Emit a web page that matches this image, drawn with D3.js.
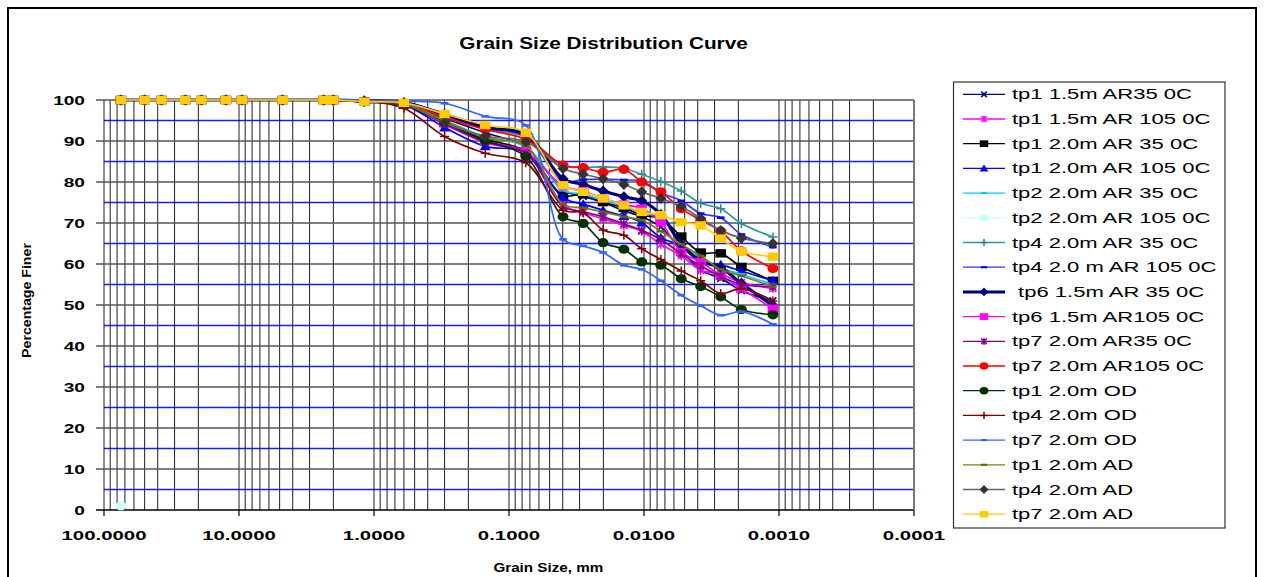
<!DOCTYPE html>
<html>
<head>
<meta charset="utf-8">
<script src="https://cdn.jsdelivr.net/npm/d3@7/dist/d3.min.js"></script>
<style>
  body { margin: 0; background: #fff; }
  text { font-family: "Liberation Sans", Arial, sans-serif; white-space: pre; }
</style>
</head>
<body>
<svg id="chart" width="1264" height="577"></svg>
<script>
// sieve + hydrometer grain sizes (mm)
const sieveSizes = [75, 50, 37.5, 25, 19, 12.5, 9.5, 4.75, 2.36, 2.0, 1.18, 0.6, 0.3, 0.15, 0.075];
const hydroSizes = [0.0398, 0.0282, 0.0201, 0.0141, 0.0104, 0.0075, 0.0053, 0.0038, 0.0027, 0.0019, 0.00111];

// percentage finer, sieves first then hydrometer readings
const tp1_15_AR35  = [100, 100, 100, 100, 100, 100, 100, 100, 100, 100, 99.6, 99.0, 95.5, 92.0, 88.5, 78.0, 76.5, 75.0, 73.0, 71.5, 69.0, 63.5, 58.5, 56.5, 53.5, 51.0];
const tp1_15_AR105 = [100, 100, 100, 100, 100, 100, 100, 100, 100, 100, 99.5, 98.8, 94.0, 89.6, 87.0, 74.5, 72.5, 71.0, 69.4, 68.0, 64.8, 62.0, 58.5, 57.5, 55.5, 54.0];
const tp1_20_AR35  = [100, 100, 100, 100, 100, 100, 100, 100, 100, 100, 99.6, 99.0, 94.5, 90.4, 87.5, 76.7, 77.0, 75.1, 73.7, 71.9, 71.1, 66.7, 62.8, 62.6, 59.3, 55.9];
const tp1_20_AR105 = [100, 100, 100, 100, 100, 100, 100, 100, 100, 100, 99.5, 98.8, 93.3, 88.7, 87.2, 76.2, 74.6, 73.1, 71.7, 70.1, 66.4, 64.4, 60.7, 59.8, 58.3, 55.9];
const tp2_20_AR35  = [100, 100, 100, 100, 100, 100, 100, 100, 100, 100, 99.6, 99.1, 95.0, 91.0, 88.6, 78.0, 77.0, 75.5, 74.0, 72.5, 71.5, 65.0, 61.5, 59.0, 57.5, 55.0];
const tp2_20_AR105 = [1.0];
const tp4_20_AR35  = [100, 100, 100, 100, 100, 100, 100, 100, 100, 100, 99.7, 99.3, 96.0, 93.0, 91.0, 84.0, 83.6, 83.7, 83.3, 81.9, 80.1, 77.8, 74.8, 73.5, 69.9, 66.6];
const tp4_20_AR105 = [100, 100, 100, 100, 100, 100, 100, 100, 100, 100, 99.8, 99.4, 96.5, 93.5, 91.0, 80.2, 80.6, 80.7, 80.5, 80.2, 77.4, 75.4, 72.3, 71.3, 67.2, 64.1];
const tp6_15_AR35  = [100, 100, 100, 100, 100, 100, 100, 100, 100, 100, 99.8, 99.4, 96.5, 93.3, 91.6, 80.8, 79.4, 77.8, 76.4, 75.4, 72.1, 64.8, 60.7, 59.1, 55.3, 49.8];
const tp6_15_AR105 = [100, 100, 100, 100, 100, 100, 100, 100, 100, 100, 99.6, 99.0, 94.3, 90.0, 87.4, 79.0, 77.8, 76.0, 74.5, 73.5, 70.2, 62.9, 60.5, 57.1, 54.0, 49.1];
const tp7_20_AR35  = [100, 100, 100, 100, 100, 100, 100, 100, 100, 100, 99.5, 98.8, 94.2, 89.8, 87.0, 74.0, 72.8, 71.5, 69.8, 68.2, 66.0, 62.5, 59.5, 57.0, 55.0, 54.5];
const tp7_20_AR105 = [100, 100, 100, 100, 100, 100, 100, 100, 100, 100, 99.7, 99.2, 95.7, 92.8, 90.4, 84.1, 83.5, 82.4, 83.1, 80.0, 77.6, 73.5, 70.7, 68.0, 63.2, 58.9];
const tp1_20_OD    = [100, 100, 100, 100, 100, 100, 100, 100, 100, 100, 99.6, 98.8, 94.5, 90.1, 86.2, 71.5, 69.9, 65.2, 63.6, 60.5, 59.7, 56.4, 54.5, 52.0, 48.9, 47.6];
const tp4_20_OD    = [100, 100, 100, 100, 100, 100, 100, 100, 100, 100, 99.8, 98.0, 91.1, 87.0, 84.7, 73.1, 72.5, 68.3, 67.0, 63.7, 61.1, 58.3, 55.9, 52.8, 54.0, 51.0];
const tp7_20_OD    = [100, 100, 100, 100, 100, 100, 100, 100, 100, 100, 100, 99.7, 99.2, 96.0, 93.8, 66.0, 64.4, 62.8, 59.7, 58.7, 55.9, 52.4, 49.8, 47.5, 48.4, 45.3];
const tp1_20_AD    = [100, 100, 100, 100, 100, 100, 100, 100, 100, 100, 99.6, 99.0, 95.0, 90.8, 88.8, 74.6, 73.7, 72.7, 71.5, 70.7, 68.0, 64.8, 62.0, 58.7, 57.1, 54.5];
const tp4_20_AD    = [100, 100, 100, 100, 100, 100, 100, 100, 100, 100, 99.7, 99.1, 94.4, 91.2, 89.8, 83.3, 81.9, 80.8, 79.4, 77.6, 76.0, 74.1, 71.1, 68.2, 66.3, 65.0];
const tp7_20_AD    = [100, 100, 100, 100, 100, 100, 100, 100, 100, 100, 99.6, 99.3, 96.6, 93.9, 92.0, 79.2, 77.6, 76.0, 74.3, 72.7, 71.9, 70.2, 69.4, 66.2, 63.1, 61.8];

const seriesNames = [
  'tp1 1.5m AR35 0C', 'tp1 1.5m AR 105 0C', 'tp1 2.0m AR 35 0C', 'tp1 2.0m AR 105 0C',
  'tp2 2.0m AR 35 0C', 'tp2 2.0m AR 105 0C', 'tp4 2.0m AR 35 0C', 'tp4 2.0 m AR 105 0C',
  ' tp6 1.5m AR 35 0C', 'tp6 1.5m AR105 0C', 'tp7 2.0m AR35 0C', 'tp7 2.0m AR105 0C',
  'tp1 2.0m OD', 'tp4 2.0m OD', 'tp7 2.0m OD', 'tp1 2.0m AD', 'tp4 2.0m AD', 'tp7 2.0m AD'
];
const seriesValues = [
  tp1_15_AR35, tp1_15_AR105, tp1_20_AR35, tp1_20_AR105, tp2_20_AR35, tp2_20_AR105,
  tp4_20_AR35, tp4_20_AR105, tp6_15_AR35, tp6_15_AR105, tp7_20_AR35, tp7_20_AR105,
  tp1_20_OD, tp4_20_OD, tp7_20_OD, tp1_20_AD, tp4_20_AD, tp7_20_AD
];
const seriesColors = ['#000080', '#ff00ff', '#000000', '#0000ff', '#00ccff', '#ccffff', '#339999', '#3333ff', '#000080',
  '#ff00ff', '#800080', '#ff0000', '#003300', '#800000', '#3366ff', '#808000', '#666666', '#ffcc00'];
const markerColors = ['#000080', '#ff00ff', '#000000', '#0000ff', '#00ccff', '#ccffff', '#2a8a8a', '#0000ff', '#000080',
  '#ff00ff', '#800080', '#ff0000', '#003300', '#800000', '#3366ff', '#666600', '#333333', '#ffcc00'];
const seriesMarkers = ['x', 'star', 'square', 'triangle', 'dash', 'circle', 'plus', 'dash', 'diamond',
  'square', 'star', 'circle', 'circle', 'plus', 'dash', 'dash', 'diamond', 'square'];

const yTicks = d3.range(0, 101, 10);
const yMinor = d3.range(5, 100, 10);
const xTicks = [100, 10, 1, 0.1, 0.01, 0.001, 0.0001];

const allSizes = sieveSizes.concat(hydroSizes);
const svg = d3.select('#chart');

const x = d3.scaleLog().domain([100, 0.0001]).range([104, 914]);
const y = d3.scaleLinear().domain([0, 100]).range([510, 100]);

// horizontally stretched text, like the original picture
function stretchText(g, str, px, py, sx, size, weight, anchor) {
  return g.append('text')
    .attr('transform', `translate(${px},${py}) scale(${sx},1)`)
    .attr('text-anchor', anchor)
    .style('font-size', size + 'px')
    .style('font-weight', weight)
    .attr('fill', '#000')
    .text(str);
}

function markerPath(type, k) {
  const s = k || 1;
  switch (type) {
    case 'x': return `M${-3.5*s},${-3.5*s}L${3.5*s},${3.5*s}M${-3.5*s},${3.5*s}L${3.5*s},${-3.5*s}`;
    case 'star': return `M${-3.5*s},${-3.5*s}L${3.5*s},${3.5*s}M${-3.5*s},${3.5*s}L${3.5*s},${-3.5*s}M0,${-4.5*s}L0,${4.5*s}`;
    case 'plus': return `M${-4.5*s},0L${4.5*s},0M0,${-4.5*s}L0,${4.5*s}`;
    case 'square': return `M${-5.3*s},${-4.2*s}h${10.6*s}v${8.4*s}h${-10.6*s}Z`;
    case 'triangle': return `M0,${-5*s}L${5.5*s},${4*s}L${-5.5*s},${4*s}Z`;
    case 'diamond': return `M0,${-5.5*s}L${5.5*s},0L0,${5.5*s}L${-5.5*s},0Z`;
    case 'circle': return `M${-5.5*s},0A${5.5*s},${4.6*s} 0 1,0 ${5.5*s},0A${5.5*s},${4.6*s} 0 1,0 ${-5.5*s},0Z`;
    case 'dash': return `M${-3.8*s},${-1.3*s}h${7.6*s}v${2.6*s}h${-7.6*s}Z`;
  }
}
const strokeOnly = t => t === 'x' || t === 'star' || t === 'plus';

function drawMarker(g, type, color, k) {
  const p = g.append('path').attr('d', markerPath(type, k));
  if (strokeOnly(type)) p.attr('fill', 'none').attr('stroke', color).attr('stroke-width', 1.5);
  else p.attr('fill', color).attr('stroke', 'none');
}

// outer frame
svg.append('rect').attr('x', 8).attr('y', 8).attr('width', 1248).attr('height', 620)
  .attr('fill', '#fff').attr('stroke', '#000').attr('stroke-width', 2);

stretchText(svg, 'Grain Size Distribution Curve', 603.5, 49, 1.26, 16.5, 'bold', 'middle');

// grid
const grid = svg.append('g');
grid.selectAll('line.minor-h').data(yMinor).join('line')
  .attr('x1', x(100)).attr('x2', x(0.0001))
  .attr('y1', d => y(d)).attr('y2', d => y(d))
  .attr('stroke', '#1a1aff').attr('stroke-width', 1.3);

const xMinor = [];
for (let e = -4; e < 2; e++) for (let m = 1; m < 10; m++) xMinor.push(m * Math.pow(10, e));
xMinor.push(100);
grid.selectAll('line.v').data(xMinor).join('line')
  .attr('x1', d => x(d)).attr('x2', d => x(d))
  .attr('y1', y(0)).attr('y2', y(100))
  .attr('stroke', '#1e1e1e').attr('stroke-width', 1);

grid.selectAll('line.major-h').data(yTicks).join('line')
  .attr('x1', x(100) - 8).attr('x2', x(0.0001))
  .attr('y1', d => y(d)).attr('y2', d => y(d))
  .attr('stroke', d => d === 0 ? '#000' : '#555').attr('stroke-width', d => d === 0 ? 1.5 : 1.6);

grid.append('line').attr('x1', x(0.0001)).attr('x2', x(0.0001)).attr('y1', y(0)).attr('y2', y(100))
  .attr('stroke', '#777').attr('stroke-width', 2);

// x ticks + labels
grid.selectAll('line.xt').data(xTicks).join('line')
  .attr('x1', d => x(d)).attr('x2', d => x(d))
  .attr('y1', y(0)).attr('y2', y(0) + 6)
  .attr('stroke', '#000').attr('stroke-width', 1.2);
const fmt = d3.format('.4f');
xTicks.forEach(d => stretchText(svg, fmt(d), x(d), 539.5, 1.7, 12, 'bold', 'middle'));
yTicks.forEach(d => stretchText(svg, String(d), 85, y(d) + 4.8, 1.47, 13, 'bold', 'end'));

stretchText(svg, 'Grain Size, mm', 548.3, 571.5, 1.17, 13, 'bold', 'middle');
svg.append('text')
  .attr('transform', 'translate(30.5,300.5) rotate(-90) scale(1.18,1)')
  .attr('text-anchor', 'middle')
  .style('font-size', '12px').style('font-weight', 'bold')
  .text('Percentage Finer');

// series
const line = d3.line()
  .x(d => x(d[0])).y(d => y(d[1]))
  .curve(d3.curveCatmullRom.alpha(0.5));

const plot = svg.append('g');
seriesValues.forEach((vals, i) => {
  const pts = vals.map((v, j) => [allSizes[j], v]);
  const g = plot.append('g');
  if (pts.length > 1) {
    g.append('path').attr('d', line(pts))
      .attr('fill', 'none')
      .attr('stroke', seriesColors[i])
      .attr('stroke-width', i === 8 ? 3.2 : 1.7);
  }
  g.selectAll('g.m').data(pts).join('g')
    .attr('transform', d => `translate(${x(d[0])},${y(d[1])})`)
    .each(function () { drawMarker(d3.select(this), seriesMarkers[i], markerColors[i], 1); });
});

// legend
const legend = svg.append('g');
legend.append('rect').attr('x', 953.5).attr('y', 82).attr('width', 271.5).attr('height', 446)
  .attr('fill', '#fff').attr('stroke', '#333').attr('stroke-width', 1.2);
seriesNames.forEach((name, i) => {
  const ly = 94.3 + i * 24.7;
  const row = legend.append('g');
  row.append('line').attr('x1', 963).attr('x2', 1005).attr('y1', ly).attr('y2', ly)
    .attr('stroke', seriesColors[i]).attr('stroke-width', i === 8 ? 3 : 1.3);
  drawMarker(row.append('g').attr('transform', `translate(984,${ly})`), seriesMarkers[i], markerColors[i], 0.8);
  stretchText(row, name, 1012, ly + 5, 1.52, 14.5, 'normal', 'start');
});
</script>
</body>
</html>
